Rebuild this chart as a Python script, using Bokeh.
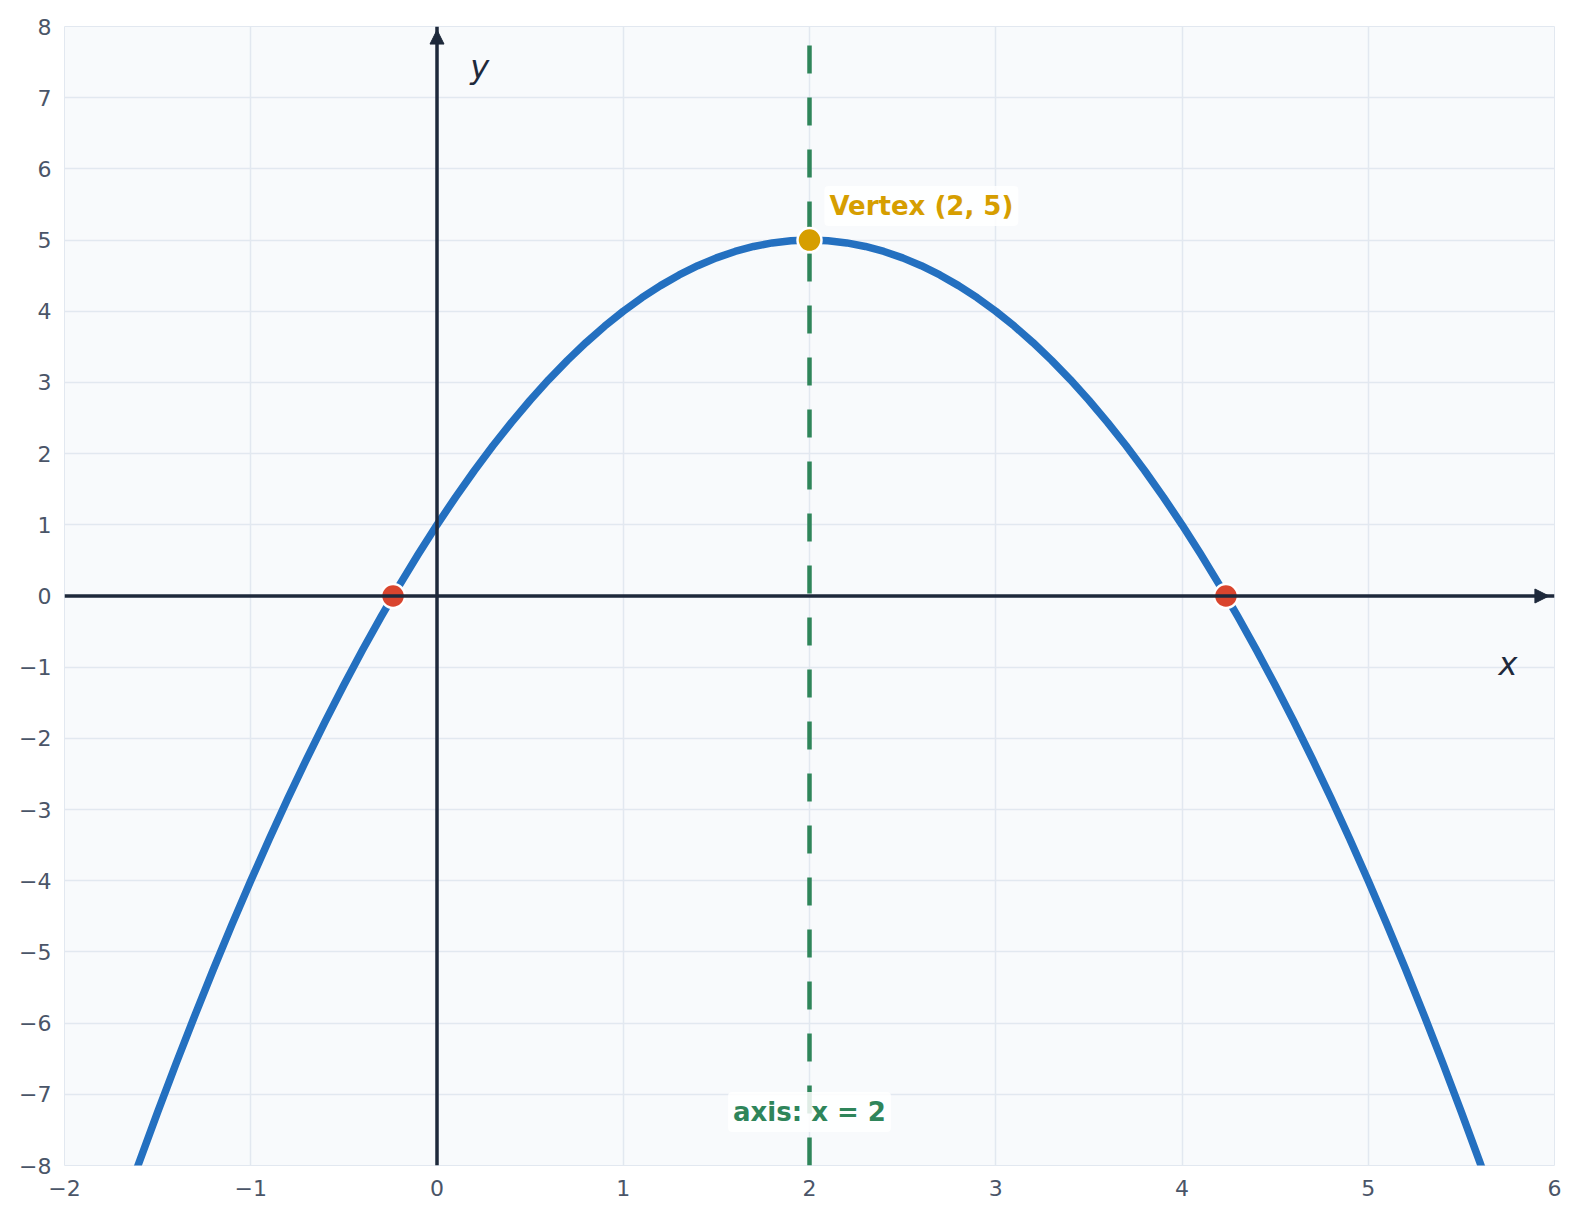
from bokeh.plotting import figure
from bokeh.models import Span, Label, Arrow, NormalHead, FixedTicker
from bokeh.embed import file_html
from bokeh.resources import INLINE

# ---- data ----
curve_x = [-2.0, -1.9, -1.8, -1.7, -1.6, -1.5, -1.4, -1.3, -1.2, -1.1,
           -1.0, -0.9, -0.8, -0.7, -0.6, -0.5, -0.4, -0.3, -0.2, -0.1,
           0.0, 0.1, 0.2, 0.3, 0.4, 0.5, 0.6, 0.7, 0.8, 0.9,
           1.0, 1.1, 1.2, 1.3, 1.4, 1.5, 1.6, 1.7, 1.8, 1.9,
           2.0, 2.1, 2.2, 2.3, 2.4, 2.5, 2.6, 2.7, 2.8, 2.9,
           3.0, 3.1, 3.2, 3.3, 3.4, 3.5, 3.6, 3.7, 3.8, 3.9,
           4.0, 4.1, 4.2, 4.3, 4.4, 4.5, 4.6, 4.7, 4.8, 4.9,
           5.0, 5.1, 5.2, 5.3, 5.4, 5.5, 5.6, 5.7, 5.8, 5.9, 6.0]
curve_y = [-11.0, -10.21, -9.44, -8.69, -7.96, -7.25, -6.56, -5.89, -5.24, -4.61,
           -4.0, -3.41, -2.84, -2.29, -1.76, -1.25, -0.76, -0.29, 0.16, 0.59,
           1.0, 1.39, 1.76, 2.11, 2.44, 2.75, 3.04, 3.31, 3.56, 3.79,
           4.0, 4.19, 4.36, 4.51, 4.64, 4.75, 4.84, 4.91, 4.96, 4.99,
           5.0, 4.99, 4.96, 4.91, 4.84, 4.75, 4.64, 4.51, 4.36, 4.19,
           4.0, 3.79, 3.56, 3.31, 3.04, 2.75, 2.44, 2.11, 1.76, 1.39,
           1.0, 0.59, 0.16, -0.29, -0.76, -1.25, -1.76, -2.29, -2.84, -3.41,
           -4.0, -4.61, -5.24, -5.89, -6.56, -7.25, -7.96, -8.69, -9.44, -10.21, -11.0]
root_x = [-0.236, 4.236]
root_y = [0.0, 0.0]
vertex_x = [2.0]
vertex_y = [5.0]
axis_of_symmetry = 2.0
x_ticks = [-2, -1, 0, 1, 2, 3, 4, 5, 6]
y_ticks = [-8, -7, -6, -5, -4, -3, -2, -1, 0, 1, 2, 3, 4, 5, 6, 7, 8]
vertex_text = "Vertex (2, 5)"
axis_text = "axis: x = 2"

FONT = "DejaVu Sans"
DARK = "#1e293b"
BLUE = "#2470c0"
GREEN = "#2f855a"
GOLD = "#d69e00"
RED = "#d9452e"

def lab(v):
    return ("\u2212" + str(-v)) if v < 0 else str(v)

x_lo, x_hi = x_ticks[0], x_ticks[-1]
y_lo, y_hi = y_ticks[0], y_ticks[-1]

p = figure(frame_width=1490, frame_height=1139,
           x_range=(x_lo, x_hi), y_range=(y_lo, y_hi),
           output_backend="svg", toolbar_location=None,
           min_border_left=64, min_border_top=26,
           min_border_right=18, min_border_bottom=46,
           background_fill_color="#f8fafc", border_fill_color="white")
p.outline_line_color = "#e2e8f0"
p.outline_line_width = 1

p.xaxis.ticker = FixedTicker(ticks=x_ticks)
p.yaxis.ticker = FixedTicker(ticks=y_ticks)
p.xaxis.major_label_overrides = {t: lab(t) for t in x_ticks}
p.yaxis.major_label_overrides = {t: lab(t) for t in y_ticks}
for ax in (p.xaxis, p.yaxis):
    ax.axis_line_color = None
    ax.major_tick_line_color = None
    ax.minor_tick_line_color = None
    ax.major_tick_out = 0
    ax.major_tick_in = 0
    ax.major_label_text_font = FONT
    ax.major_label_text_font_size = "22px"
    ax.major_label_text_color = "#4a5568"
p.xaxis.major_label_standoff = 14
p.yaxis.major_label_standoff = 13

p.grid.grid_line_color = "#e2e8f0"
p.grid.grid_line_width = 1.5
p.xgrid.ticker = FixedTicker(ticks=x_ticks)
p.ygrid.ticker = FixedTicker(ticks=y_ticks)

# coordinate axes
p.add_layout(Span(location=0, dimension="width", line_color=DARK, line_width=3.5))
p.add_layout(Span(location=0, dimension="height", line_color=DARK, line_width=3.5))
p.add_layout(Arrow(x_start=5.4, y_start=0, x_end=5.97, y_end=0,
                   line_color=DARK, line_width=2,
                   end=NormalHead(size=14, fill_color=DARK, line_color=DARK)))
p.add_layout(Arrow(x_start=0, y_start=6.8, x_end=0, y_end=7.95,
                   line_color=DARK, line_width=2,
                   end=NormalHead(size=14, fill_color=DARK, line_color=DARK)))
p.add_layout(Label(x=5.75, y=-0.96, text="x", text_font=FONT, text_font_style="italic",
                   text_font_size="32px", text_color=DARK,
                   text_align="center", text_baseline="middle"))
p.add_layout(Label(x=0.23, y=7.43, text="y", text_font=FONT, text_font_style="italic",
                   text_font_size="32px", text_color=DARK,
                   text_align="center", text_baseline="middle"))

# axis of symmetry (drawn bottom to top)
p.segment(x0=[axis_of_symmetry], y0=[y_lo], x1=[axis_of_symmetry], y1=[y_hi],
          line_color=GREEN, line_width=4.5, line_dash="28 24")

# curve
p.line(curve_x, curve_y, line_color=BLUE, line_width=7.5, line_join="round")

# points
p.scatter(root_x, root_y, size=24, fill_color=RED, line_color="white", line_width=2.5)
p.scatter(vertex_x, vertex_y, size=24, fill_color=GOLD, line_color="white", line_width=2.5)

# labels
p.add_layout(Label(x=vertex_x[0] + 0.08, y=vertex_y[0] + 0.48, text=vertex_text,
                   text_font=FONT, text_font_style="bold", text_font_size="26px",
                   text_color=GOLD, text_align="left", text_baseline="middle",
                   background_fill_color="white", background_fill_alpha=0.85,
                   padding=5, border_radius=4))
p.add_layout(Label(x=axis_of_symmetry, y=-7.25, text=axis_text,
                   text_font=FONT, text_font_style="bold", text_font_size="26px",
                   text_color=GREEN, text_align="center", text_baseline="middle",
                   background_fill_color="white", background_fill_alpha=0.85,
                   padding=5, border_radius=4))

open("out.html", "w").write(file_html(p, INLINE))
